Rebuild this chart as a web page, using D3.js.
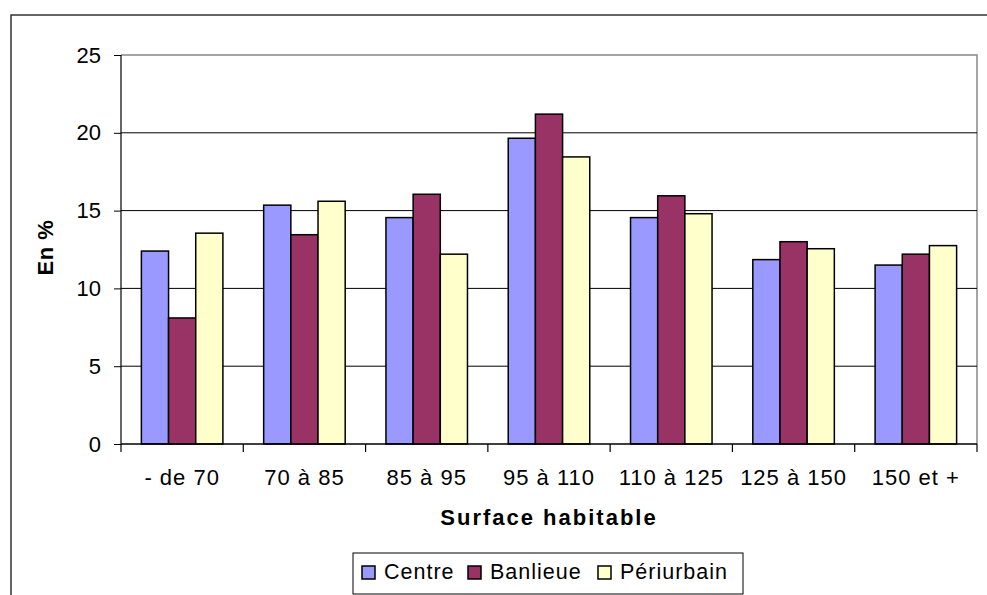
<!DOCTYPE html>
<html><head><meta charset="utf-8">
<script src="https://cdn.jsdelivr.net/npm/d3@7"></script>
<style>body{margin:0;background:#fff}svg{display:block}text{font-family:Arial,"Liberation Sans",sans-serif}</style>
</head><body><svg id="c" width="987" height="595"></svg>
<script>
const categories = ["- de 70","70 à 85","85 à 95","95 à 110","110 à 125","125 à 150","150 et +"];
const seriesNames = ["Centre","Banlieue","Périurbain"];
const centre = [12.4,15.35,14.55,19.65,14.55,11.85,11.5];
const banlieue = [8.1,13.45,16.05,21.2,15.95,13.0,12.2];
const periurbain = [13.55,15.6,12.2,18.45,14.8,12.55,12.75];
const yTicks = [0,5,10,15,20,25];
const colors = ["#9999FF","#993366","#FFFFCC"];
const values = [centre, banlieue, periurbain];

const svg = d3.select("#c");
const L=121, R=977, T=55, B=444;
const FF = "Arial,'Liberation Sans',sans-serif";
// outer chart border (cropped)
svg.append("rect").attr("x",11).attr("y",15).attr("width",1100).attr("height",700)
  .attr("fill","none").attr("stroke","#333").attr("stroke-width",1.5);

const x = d3.scaleBand().domain(categories).range([L,R]).paddingInner(0).paddingOuter(0);
const y = d3.scaleLinear().domain([0,25]).range([B,T]);

// plot area border top/right (gray)
svg.append("path").attr("d",`M${L},${T}H${R}V${B}`).attr("fill","none").attr("stroke","#888").attr("stroke-width",1.5);
// gridlines
svg.append("g").selectAll("line").data(yTicks.filter(d=>d>0&&d<25)).join("line")
  .attr("x1",L).attr("x2",R).attr("y1",d=>y(d)).attr("y2",d=>y(d)).attr("stroke","#000").attr("stroke-width",1);

// bars
const bw = x.bandwidth()/4.5;
const g = svg.append("g");
categories.forEach((c,i)=>{
  values.forEach((vals,s)=>{
    g.append("rect").attr("x",x(c)+0.75*bw+s*bw).attr("y",y(vals[i]))
      .attr("width",bw).attr("height",y(0)-y(vals[i]))
      .attr("fill",colors[s]).attr("stroke","#000").attr("stroke-width",1.5);
  });
});

// y axis
const ya = d3.axisLeft(y).tickValues(yTicks).tickSize(7).tickPadding(13);
const yg = svg.append("g").attr("transform",`translate(${L},0)`).call(ya);
yg.select(".domain").attr("stroke","#000").attr("stroke-width",1.2).attr("d",`M0,${B}V${T}`);
yg.selectAll(".tick line").attr("stroke","#000");
yg.selectAll(".tick text").attr("font-size",22).attr("fill","#000").style("font-family",FF);

// x axis
const xa = d3.axisBottom(x).tickSize(0).tickPadding(25);
const xg = svg.append("g").attr("transform",`translate(0,${B})`).call(xa);
xg.select(".domain").attr("stroke","#000").attr("stroke-width",1.5).attr("d",`M${L},0H${R}`);
xg.selectAll(".tick text").attr("font-size",22).attr("fill","#000").style("font-family",FF)
  .style("letter-spacing","1px");
// category boundary ticks
svg.append("g").selectAll("line").data(d3.range(categories.length+1)).join("line")
  .attr("x1",d=>L+d*x.step()).attr("x2",d=>L+d*x.step()).attr("y1",B).attr("y2",B+8)
  .attr("stroke","#000").attr("stroke-width",1.2);

// axis titles
svg.append("text").attr("x",(L+R)/2).attr("y",524.5).attr("text-anchor","middle")
  .attr("font-size",22).attr("font-weight","bold").style("letter-spacing","2px").text("Surface habitable");
svg.append("text").attr("transform",`translate(53,${(T+B)/2-2}) rotate(-90)`).attr("text-anchor","middle")
  .attr("font-size",22).attr("font-weight","bold").style("letter-spacing","0.5px").text("En %");

// legend
const lg = svg.append("g");
lg.append("rect").attr("x",353).attr("y",553).attr("width",390).attr("height",41)
  .attr("fill","#fff").attr("stroke","#000").attr("stroke-width",1);
const legX = [362,468,598];
seriesNames.forEach((n,i)=>{
  lg.append("rect").attr("x",legX[i]).attr("y",566).attr("width",13).attr("height",13)
    .attr("fill",colors[i]).attr("stroke","#000").attr("stroke-width",1.5);
  lg.append("text").attr("x",legX[i]+22).attr("y",579).attr("font-size",21.5)
    .style("letter-spacing","1px").text(n);
});
</script></body></html>
